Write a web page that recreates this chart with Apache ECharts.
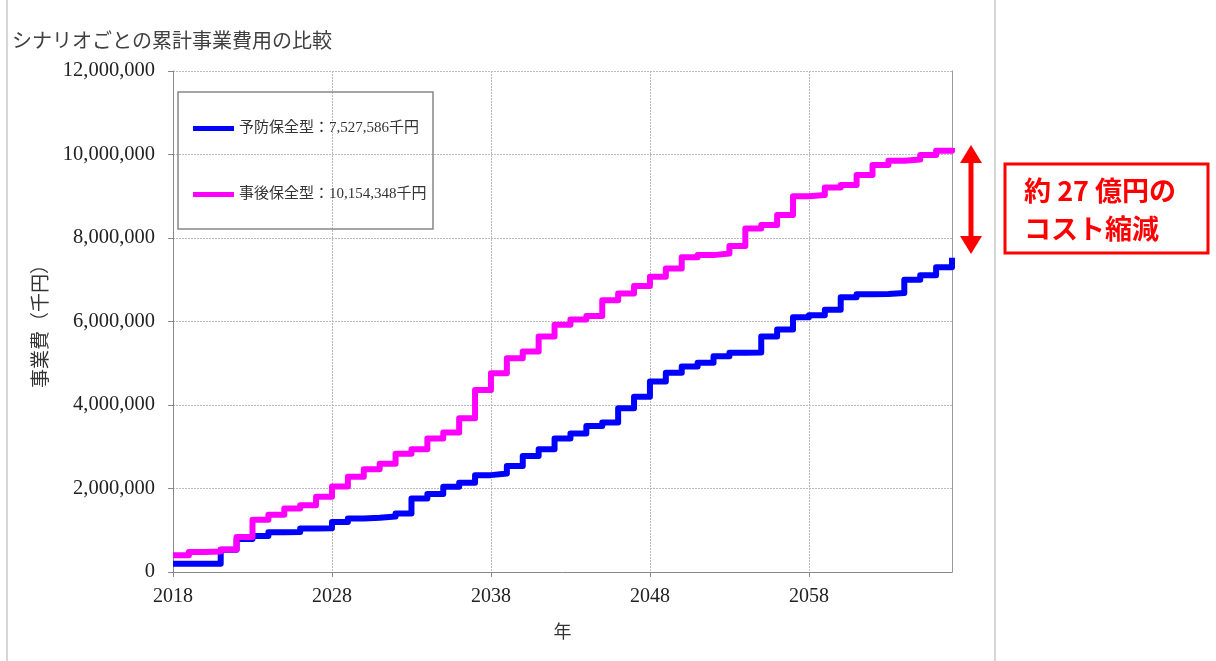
<!DOCTYPE html>
<html>
<head>
<meta charset="utf-8">
<script src="https://cdn.jsdelivr.net/npm/echarts@6/dist/echarts.min.js"></script>
<style>
html,body{margin:0;padding:0;background:#fff;}
#chart{width:1216px;height:661px;}
</style>
</head>
<body>
<div id="chart"></div>
<script>
// ---- data (千円) ----
const years = [2018,2019,2020,2021,2022,2023,2024,2025,2026,2027,
               2028,2029,2030,2031,2032,2033,2034,2035,2036,2037,
               2038,2039,2040,2041,2042,2043,2044,2045,2046,2047,
               2048,2049,2050,2051,2052,2053,2054,2055,2056,2057,
               2058,2059,2060,2061,2062,2063,2064,2065,2066,2067];
const preventive = [200000,200000,200000,530000,790000,860000,950000,960000,1040000,1050000,
                    1200000,1280000,1300000,1330000,1400000,1760000,1870000,2040000,2140000,2320000,
                    2360000,2540000,2780000,2940000,3200000,3320000,3500000,3580000,3920000,4200000,
                    4560000,4770000,4920000,5010000,5170000,5250000,5260000,5640000,5810000,6100000,
                    6150000,6280000,6580000,6650000,6660000,6680000,7000000,7110000,7300000,7527586];
const corrective = [400000,480000,490000,540000,840000,1250000,1370000,1520000,1600000,1800000,
                    2050000,2280000,2460000,2590000,2830000,2940000,3200000,3340000,3680000,4360000,
                    4760000,5120000,5280000,5640000,5920000,6050000,6130000,6510000,6670000,6850000,
                    7070000,7270000,7540000,7590000,7630000,7810000,8230000,8310000,8550000,9000000,
                    9030000,9210000,9270000,9510000,9750000,9850000,9880000,9990000,10090000,10154348];
const seriesNames = ['予防保全型：7,527,586千円', '事後保全型：10,154,348千円'];
const titleText = 'シナリオごとの累計事業費用の比較';
const yAxisName = '事業費（千円）';
const xAxisName = '年';
const noteLines = ['約 27 億円の', 'コスト縮減'];

const SERIF = "'Liberation Serif','Noto Sans CJK JP',serif";
const pair = (vals) => years.map((y, i) => [y, vals[i]]);

const chart = echarts.init(document.getElementById('chart'), null, {renderer: 'canvas'});
chart.setOption({
  animation: false,
  backgroundColor: '#fff',
  title: {
    text: titleText, left: 7, top: 28,
    textStyle: {fontFamily: SERIF, fontSize: 20, fontWeight: 'normal', color: '#404040'}
  },
  grid: {left: 173, right: 264, top: 71, bottom: 89, containLabel: false},
  legend: {
    data: seriesNames, orient: 'vertical', left: 188, top: 116, itemGap: 51,
    icon: 'rect', itemWidth: 41, itemHeight: 5,
    textStyle: {fontFamily: SERIF, fontSize: 15, color: '#333'}
  },
  xAxis: {
    type: 'value', min: 2018, max: 2067, interval: 10,
    name: xAxisName, nameLocation: 'middle', nameGap: 52,
    nameTextStyle: {fontFamily: SERIF, fontSize: 18, color: '#333'},
    axisLine: {show: true, lineStyle: {color: '#888', width: 1}},
    axisTick: {show: true, length: 5, lineStyle: {color: '#888'}},
    axisLabel: {
      margin: 15, fontFamily: SERIF, fontSize: 20, color: '#222', showMaxLabel: false,
      formatter: v => ((v - 2018) % 10 === 0 ? String(v) : '')
    },
    splitLine: {show: true, lineStyle: {color: '#bbb', type: [2, 1], width: 1}}
  },
  yAxis: [{
    type: 'value', min: 0, max: 12000000, interval: 2000000,
    name: yAxisName, nameLocation: 'middle', nameGap: 117, nameRotate: 90,
    nameTextStyle: {fontFamily: SERIF, fontSize: 19, color: '#333'},
    axisLine: {show: true, lineStyle: {color: '#888', width: 1}},
    axisTick: {show: true, length: 5, lineStyle: {color: '#888'}},
    axisLabel: {
      margin: 18, fontFamily: SERIF, fontSize: 20.5, color: '#222',
      formatter: v => v.toLocaleString('en-US')
    },
    splitLine: {show: true, lineStyle: {color: '#bbb', type: [2, 1], width: 1}}
  }, {
    type: 'value', min: 0, max: 12000000, position: 'right',
    axisLine: {show: true, lineStyle: {color: '#999', width: 1}},
    axisTick: {show: false}, axisLabel: {show: false}, splitLine: {show: false}
  }],
  series: [
    {
      name: seriesNames[0], type: 'line', step: 'end', data: pair(preventive),
      showSymbol: false, symbol: 'none', color: '#0000FF',
      lineStyle: {color: '#0000FF', width: 6, join: 'round'}, z: 3
    },
    {
      name: seriesNames[1], type: 'line', step: 'end', data: pair(corrective),
      showSymbol: false, symbol: 'none', color: '#FF00FF',
      lineStyle: {color: '#FF00FF', width: 6, join: 'round'}, z: 4
    }
  ],
  graphic: [
    // outer frame lines
    {type: 'line', shape: {x1: 7, y1: 0, x2: 7, y2: 661}, style: {stroke: '#c8c8c8', lineWidth: 1.5}, silent: true},
    {type: 'line', shape: {x1: 995, y1: 0, x2: 995, y2: 661}, style: {stroke: '#c8c8c8', lineWidth: 1.5}, silent: true},
    // legend box
    {type: 'rect', shape: {x: 178, y: 92, width: 255, height: 137},
     style: {fill: 'rgba(255,255,255,0)', stroke: '#888', lineWidth: 1.5}, z: 1, silent: true},
    // red double arrow
    {type: 'line', shape: {x1: 971, y1: 160, x2: 971, y2: 238}, style: {stroke: '#ff0000', lineWidth: 5}, silent: true},
    {type: 'polygon', shape: {points: [[971, 145], [960, 163], [982, 163]]}, style: {fill: '#ff0000'}, silent: true},
    {type: 'polygon', shape: {points: [[971, 254], [960, 236], [982, 236]]}, style: {fill: '#ff0000'}, silent: true},
    // red note box
    {type: 'rect', shape: {x: 1005, y: 164, width: 203, height: 89},
     style: {fill: '#fff', stroke: '#ff0000', lineWidth: 3}, silent: true},
    {type: 'text', x: 1024, y: 191,
     style: {text: noteLines[0], fill: '#ff0000', verticalAlign: 'middle', align: 'left',
             font: "bold 27px 'Noto Sans CJK JP', sans-serif"}, silent: true},
    {type: 'text', x: 1024, y: 229,
     style: {text: noteLines[1], fill: '#ff0000', verticalAlign: 'middle', align: 'left',
             font: "bold 27px 'Noto Sans CJK JP', sans-serif"}, silent: true}
  ]
});
</script>
</body>
</html>
